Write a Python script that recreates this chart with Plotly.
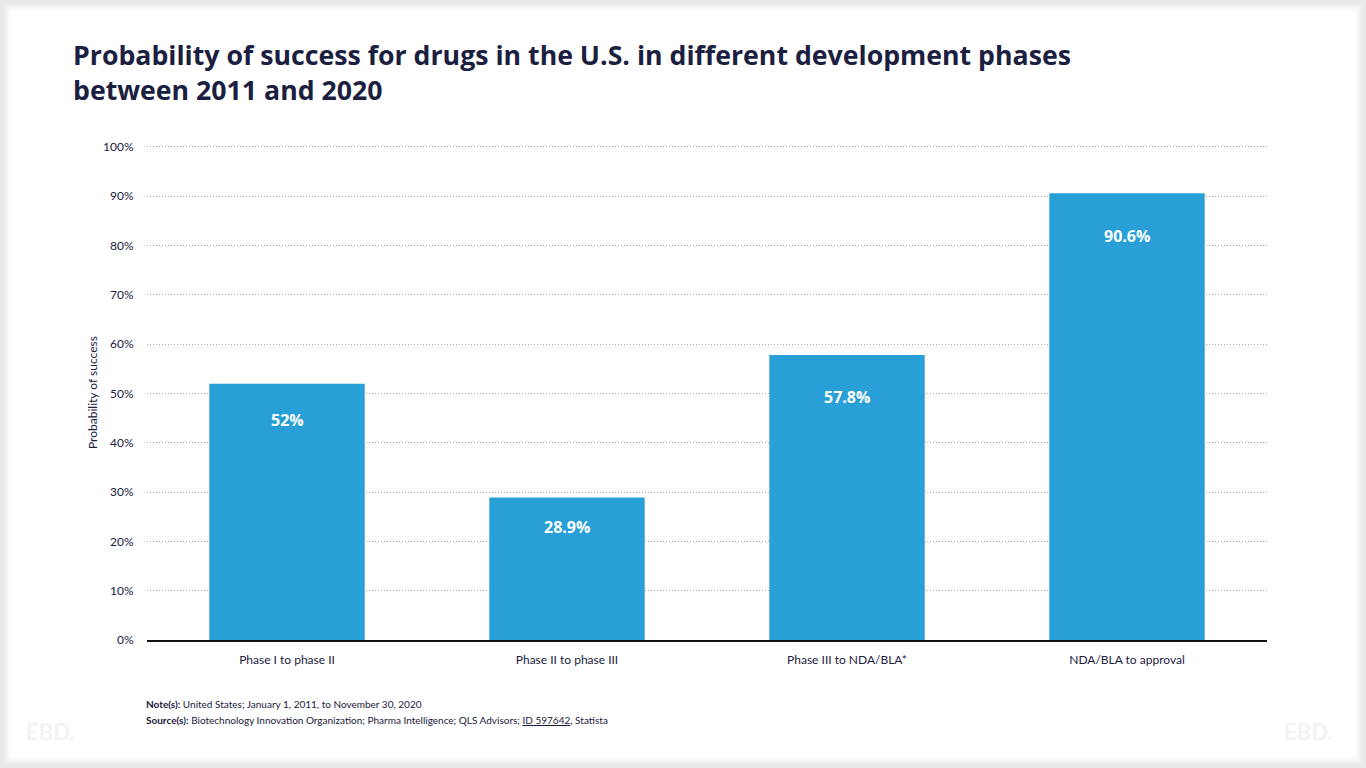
import plotly.graph_objects as go

categories = ["Phase I to phase II", "Phase II to phase III", "Phase III to NDA/BLA*", "NDA/BLA to approval"]
values = [52, 28.9, 57.8, 90.6]
value_labels = ["52%", "28.9%", "57.8%", "90.6%"]
y_ticks = [0, 10, 20, 30, 40, 50, 60, 70, 80, 90, 100]

title_text = "Probability of success for drugs in the U.S. in different development phases<br>between 2011 and 2020"
y_title = "Probability of success"
note_text = "<b>Note(s):</b> United States; January 1, 2011, to November 30, 2020"
source_text = "<b>Source(s):</b> Biotechnology Innovation Organization; Pharma Intelligence; QLS Advisors; <u>ID 597642</u>, Statista"

W, H = 1366, 768
L, R, T, B = 147, 99, 145, 128
PW, PH = W - L - R, H - T - B

def px(x):
    return (x - L) / PW

def py(y):
    return (H - B - y) / PH

navy = "#1b2040"
bar_color = "#289fd6"
font_main = "Lato"
label_offsets = [-36, -29, -42, -43]

fig = go.Figure()
fig.add_trace(go.Bar(
    x=categories, y=values,
    marker=dict(color=bar_color, line=dict(width=0)),
    width=0.555,
    hoverinfo="skip",
))

annotations = []
for c, v, t, off in zip(categories, values, value_labels, label_offsets):
    annotations.append(dict(x=c, y=v, xref="x", yref="y", text=t, showarrow=False,
                            yshift=off, yanchor="middle",
                            font=dict(family="Open Sans", size=16, color="white", weight="bold")))

annotations += [
    dict(x=px(71), y=py(34), xref="paper", yref="paper", xanchor="left", yanchor="top",
         align="left", text="<b>" + title_text + "</b>", showarrow=False,
         font=dict(family="Open Sans", size=26.7, color=navy)),
    dict(x=px(92), y=py(393), xref="paper", yref="paper", xanchor="center", yanchor="middle",
         text=y_title, textangle=-90, showarrow=False,
         font=dict(family=font_main, size=12, color=navy)),
    dict(x=px(144), y=py(704), xref="paper", yref="paper", xanchor="left", yanchor="middle",
         text=note_text, showarrow=False, font=dict(family=font_main, size=10, color=navy)),
    dict(x=px(144), y=py(720), xref="paper", yref="paper", xanchor="left", yanchor="middle",
         text=source_text, showarrow=False, font=dict(family=font_main, size=10, color=navy)),
    dict(x=px(24), y=py(731), xref="paper", yref="paper", xanchor="left", yanchor="middle",
         text="<b>EBD.</b>", showarrow=False, font=dict(family=font_main, size=22, color="#f3f3f3")),
    dict(x=px(1282), y=py(731), xref="paper", yref="paper", xanchor="left", yanchor="middle",
         text="<b>EBD.</b>", showarrow=False, font=dict(family=font_main, size=22, color="#f3f3f3")),
]

# card background with soft shadow edges
shapes = []
insets = [(4, "#eeeeee"), (6, "#f4f4f4"), (8, "#fafafa"), (11, "#ffffff")]
for d, col in insets:
    shapes.append(dict(type="rect", xref="paper", yref="paper", layer="below",
                       x0=px(d), x1=px(W - d), y0=py(H - d), y1=py(d),
                       fillcolor=col, line=dict(width=0)))

fig.update_layout(
    width=W, height=H,
    margin=dict(l=L, r=R, t=T, b=B),
    paper_bgcolor="#e9e9e9",
    plot_bgcolor="rgba(0,0,0,0)",
    showlegend=False,
    annotations=annotations,
    shapes=shapes,
    xaxis=dict(
        showline=True, linecolor="#111111", linewidth=2,
        showgrid=False, ticks="outside", ticklen=8, tickcolor="rgba(0,0,0,0)",
        tickfont=dict(family=font_main, size=12, color=navy),
        fixedrange=True,
    ),
    yaxis=dict(
        range=[0, 100.4], tickvals=y_ticks, ticktext=[f"{t}%" for t in y_ticks],
        showgrid=True, gridcolor="#a8a8a8", gridwidth=1, griddash="1px,2px",
        zeroline=False, showline=False,
        ticks="outside", ticklen=10, tickcolor="rgba(0,0,0,0)",
        tickfont=dict(family=font_main, size=12, color=navy),
        fixedrange=True,
    ),
)

fig.write_html("out.html", config={"displayModeBar": False})
